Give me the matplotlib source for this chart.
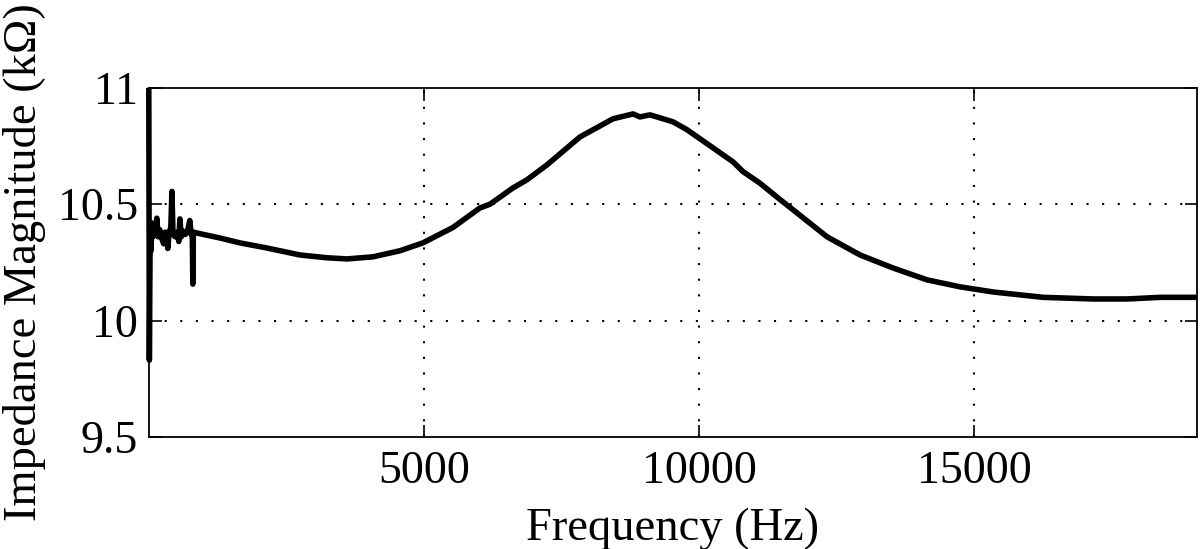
import matplotlib
matplotlib.use('Agg')
import matplotlib.pyplot as plt

# noisy start region (Hz, kOhm)
f_noise = [0, 10, 25, 40, 55, 75, 95, 120, 145, 170, 200, 240, 270, 300, 330, 345,
           370, 400, 420, 440, 480, 520, 545, 565, 590, 620, 660, 700, 745, 770, 790, 800, 810]
z_noise = [11.0, 9.83, 10.40, 10.30, 10.42, 10.36, 10.40, 10.37, 10.44, 10.36, 10.39, 10.35,
           10.33, 10.38, 10.36, 10.31, 10.38, 10.40, 10.555, 10.37, 10.36, 10.38, 10.34, 10.437,
           10.36, 10.385, 10.37, 10.38, 10.43, 10.37, 10.38, 10.157, 10.38]

# smooth part of the curve
f_main = [900, 1290, 1655, 2145, 2745, 3236, 3600, 4073, 4564, 4982, 5527, 6018, 6200, 6618,
          6873, 7236, 7836, 8436, 8800, 8927, 9109, 9527, 9782, 10255, 10618, 10800, 11109,
          11473, 11709, 12327, 12927, 13527, 14145, 14745, 15345, 16255, 17164, 17782, 18382, 19050]
z_main = [10.375, 10.355, 10.334, 10.312, 10.282, 10.27, 10.265, 10.274, 10.30, 10.334, 10.40,
          10.484, 10.50, 10.57, 10.605, 10.669, 10.789, 10.867, 10.888, 10.875, 10.884, 10.854,
          10.82, 10.742, 10.682, 10.64, 10.59, 10.52, 10.476, 10.36, 10.282, 10.226, 10.175,
          10.145, 10.123, 10.10, 10.093, 10.093, 10.10, 10.10]

freq = f_noise + f_main
imp = z_noise + z_main

plt.rcParams['font.family'] = ['Liberation Serif', 'DejaVu Serif']

fig = plt.figure(figsize=(12, 5.49), dpi=100)
ax = fig.add_axes([0.124, 0.204, 0.8735, 0.636])

ax.plot(freq, imp, color='black', linewidth=4, solid_joinstyle='round',
        solid_capstyle='butt', clip_on=False)

ax.set_xlim(0, 19050)
ax.set_ylim(9.5, 11)
ax.set_xticks([5000, 10000, 15000])
ax.set_xticklabels(['5000', '10000', '15000'])
ax.set_yticks([9.5, 10, 10.5, 11])
ax.set_yticklabels(['9.5', '10', '10.5', '11'])

for v in [5000, 10000, 15000]:
    ax.axvline(v, color='black', linewidth=1.5, linestyle=(0, (1, 6.5)), zorder=0)
for v in [10, 10.5]:
    ax.axhline(v, color='black', linewidth=1.5, linestyle=(0, (1, 6.5)), zorder=0)

ax.tick_params(direction='in', length=9, width=1.2, labelsize=33,
               top=True, right=True)
ax.tick_params(axis='x', pad=10)
ax.tick_params(axis='y', pad=8)
for s in ax.spines.values():
    s.set_linewidth(1.3)

ax.set_xlabel('Frequency (Hz)', fontsize=33.5, labelpad=10)
ax.set_ylabel('Impedance Magnitude (k\u03a9)', fontsize=33.5, labelpad=8)

fig.savefig('out.png', dpi=100)
